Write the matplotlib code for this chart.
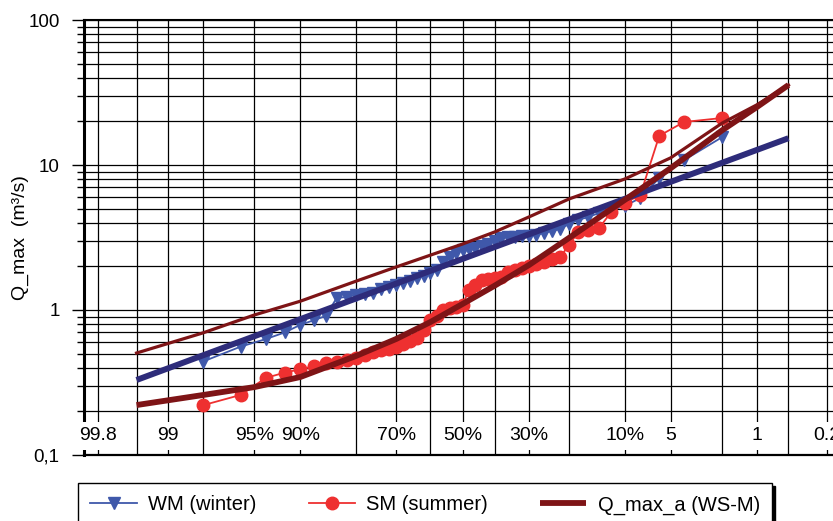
from statistics import NormalDist

import numpy as np
import matplotlib
matplotlib.use("Agg")
import matplotlib.pyplot as plt
import matplotlib.transforms as mtransforms
from matplotlib.ticker import FixedLocator, LogLocator, NullFormatter, FuncFormatter

plt.rcParams['font.family'] = ['Liberation Sans', 'DejaVu Sans']

# exceedance probability (%) of each ranked value, largest value = 2 %
exceed_pct = [98, 96, 94, 92, 90, 88, 86, 84, 82, 80, 78, 76, 74, 72, 70, 68,
              66, 64, 62, 60, 58, 56, 54, 52, 50, 48, 46, 44, 42, 40, 38, 36,
              34, 32, 30, 28, 26, 24, 22, 20, 18, 16, 14, 12, 10, 8, 6, 4, 2]

# winter maxima (m3/s), sorted ascending
wm_q = [0.44, 0.56, 0.63, 0.70, 0.79, 0.85, 0.91, 1.21, 1.23, 1.27, 1.29, 1.31,
        1.40, 1.44, 1.49, 1.54, 1.58, 1.66, 1.72, 1.80, 1.89, 2.14, 2.32, 2.47,
        2.59, 2.64, 2.68, 2.76, 2.85, 2.99, 3.14, 3.19, 3.20, 3.22, 3.24, 3.29,
        3.40, 3.51, 3.62, 3.92, 4.18, 4.38, 4.67, 4.90, 5.21, 5.92, 8.13, 10.8,
        15.6]

# summer maxima (m3/s), sorted ascending
sm_q = [0.22, 0.26, 0.34, 0.37, 0.39, 0.41, 0.43, 0.44, 0.45, 0.47, 0.49, 0.51,
        0.53, 0.54, 0.56, 0.58, 0.61, 0.64, 0.73, 0.85, 0.91, 1.00, 1.03, 1.05,
        1.08, 1.37, 1.49, 1.61, 1.64, 1.66, 1.69, 1.83, 1.89, 1.95, 2.01, 2.08,
        2.14, 2.25, 2.32, 2.81, 3.45, 3.56, 3.68, 4.74, 5.47, 6.21, 15.9, 19.8,
        21.1]

# fitted distributions
wm_fit_pct = [99.5, 50, 0.5]
wm_fit_q = [0.329, 2.25, 15.3]

fit_pct = [99.5, 98, 95, 90, 80, 70, 60, 50, 40, 30, 20, 10, 5, 2, 1, 0.5]
qa_fit_q = [0.221, 0.259, 0.294, 0.345, 0.482, 0.631, 0.826, 1.10, 1.47, 2.04,
            3.14, 5.74, 9.5, 17.4, 25.1, 35.6]
qa_env_q = [0.505, 0.694, 0.924, 1.15, 1.58, 1.98, 2.39, 2.85, 3.45, 4.38,
            5.83, 8.0, 11.2, 19.5, 26.0, 35.6]

# probability paper grid and its labels
grid_pct = [99.8, 99.5, 99, 98, 95, 90, 80, 70, 60, 50, 40, 30, 20, 10, 5, 2,
            1, 0.5, 0.2]
label_pct = [99.8, 99, 95, 90, 70, 50, 30, 10, 5, 1, 0.2]
label_txt = ['99.8', '99', '95%', '90%', '70%', '50%', '30%', '10%', '5', '1',
             '0.2']

_nd = NormalDist()


def nonexceed(pct):
    # the axis runs on non-exceedance, so 99.8 % exceedance sits on the left
    return 100.0 - np.asarray(pct, dtype=float)


def prob_to_z(p):
    p = np.clip(np.asarray(p, dtype=float), 1e-4, 100 - 1e-4)
    return np.vectorize(lambda v: _nd.inv_cdf(v / 100.0), otypes=[float])(p)


def z_to_prob(z):
    z = np.asarray(z, dtype=float)
    return np.vectorize(lambda v: 100.0 * _nd.cdf(v), otypes=[float])(z)


fig = plt.figure(figsize=(8.33, 5.21), dpi=100)
ax = fig.add_axes([84 / 833, 66 / 521, 757 / 833, 435 / 521])

ax.set_xscale('function', functions=(prob_to_z, z_to_prob))
ax.set_yscale('log')

# grid
ax.xaxis.set_major_locator(FixedLocator(nonexceed(grid_pct)))
ax.tick_params(axis='x', which='both', length=0, labelbottom=False)
ax.yaxis.set_major_locator(LogLocator(base=10))
ax.yaxis.set_minor_locator(LogLocator(base=10, subs=range(2, 10)))
ax.yaxis.set_minor_formatter(NullFormatter())
ylab = {-1: '0,1', 0: '1', 1: '10', 2: '100'}
ax.yaxis.set_major_formatter(
    FuncFormatter(lambda v, pos: ylab.get(int(round(np.log10(v))), '')))
ax.tick_params(axis='y', which='major', direction='out', length=8.5, width=1,
               labelsize=13.5, pad=9)
ax.tick_params(axis='y', which='minor', direction='out', length=5, width=1)
ax.grid(True, which='both', axis='y', color='black', lw=0.9)
ax.grid(True, which='major', axis='x', color='black', lw=0.9)

ax.spines['left'].set_linewidth(2.2)
ax.spines['bottom'].set_linewidth(1.6)
ax.spines['top'].set_linewidth(1.5)

# probability labels inside the bottom band
trans = mtransforms.blended_transform_factory(ax.transData, ax.transAxes)
for pct, txt in zip(nonexceed(label_pct), label_txt):
    ax.text(pct, 0.044, txt, transform=trans, ha='center', va='center',
            fontsize=14, bbox=dict(fc='white', ec='none', pad=4), zorder=3)

# data series
wm_line, = ax.plot(nonexceed(exceed_pct), wm_q, color='#3F58AA', lw=1.3,
                   marker='v', ms=9, label='WM (winter)', zorder=4)
sm_line, = ax.plot(nonexceed(exceed_pct), sm_q, color='#EE3030', lw=1.3,
                   marker='o', ms=9, label='SM (summer)', zorder=4)

# fitted curves
ax.plot(nonexceed(wm_fit_pct), wm_fit_q, color='#2E2C7A', lw=4.3, zorder=5,
        solid_capstyle='butt')
ax.plot(nonexceed(fit_pct), qa_env_q, color='#7E1416', lw=2.3, zorder=5)
qa_line, = ax.plot(nonexceed(fit_pct), qa_fit_q, color='#7E1416', lw=4.2,
                   zorder=5, label='Q_max_a (WS-M)', solid_capstyle='butt')

ax.set_xlim(0.139, 99.861)
ax.set_ylim(0.1, 100)

ax.set_ylabel('Q_max  (m³/s)', fontsize=14)
ax.yaxis.set_label_coords(-0.073, 0.5)

fig.legend(handles=[wm_line, sm_line, qa_line], loc='upper left',
           bbox_to_anchor=(78 / 833, 1 - 483 / 521), ncol=3, fontsize=14.5,
           frameon=True, fancybox=False, edgecolor='black', borderaxespad=0,
           borderpad=0.62, handlelength=2.3, handletextpad=0.55,
           columnspacing=2.6, shadow={'color': 'black', 'alpha': 1})

fig.savefig('out.png', dpi=100)
